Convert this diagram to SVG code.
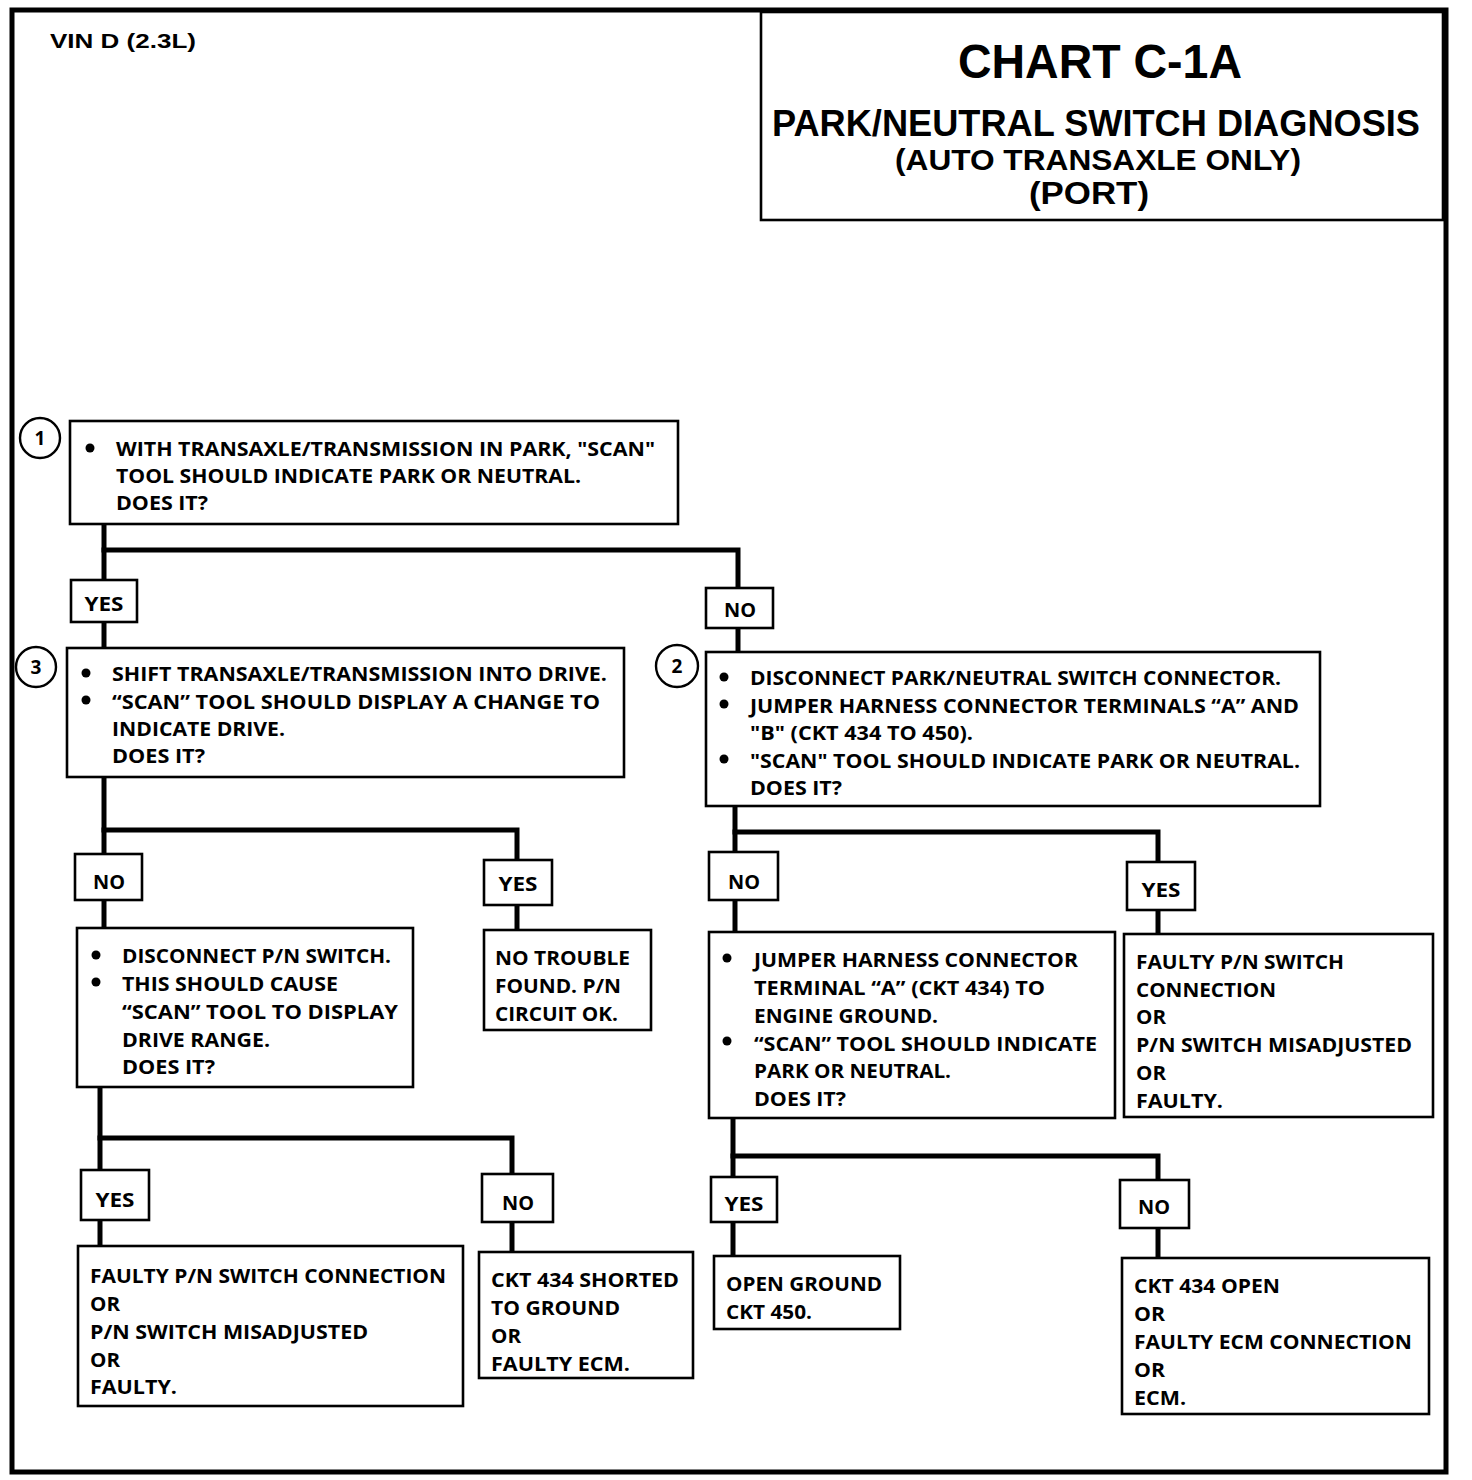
<svg xmlns="http://www.w3.org/2000/svg" width="1472" height="1480" viewBox="0 0 1472 1480">
<style>
.bx{fill:#fff;stroke:#000;stroke-width:2.6}
.lb{fill:#fff;stroke:#000;stroke-width:2.6}
.cn{fill:none;stroke:#000;stroke-width:5;stroke-linecap:square}
.t{font-family:"Open Sans","DejaVu Sans",sans-serif;font-weight:bold;font-size:20px;fill:#000}
.lt{font-family:"Open Sans","DejaVu Sans",sans-serif;font-weight:bold;font-size:20px;fill:#000;text-anchor:middle}
.h{font-family:"Liberation Sans",Arial,sans-serif;font-weight:bold;fill:#000;text-anchor:middle}
.num{font-family:"Open Sans","DejaVu Sans",sans-serif;font-weight:bold;font-size:19px;fill:#000;text-anchor:middle}
.cc{fill:#fff;stroke:#000;stroke-width:2.4}
</style>
<rect x="0" y="0" width="1472" height="1480" fill="#fff"/>
<rect x="12" y="10" width="1434" height="1462" fill="none" stroke="#000" stroke-width="5"/>
<text x="50" y="48" font-family="Liberation Sans, Arial, sans-serif" font-weight="bold" font-size="21" textLength="146" lengthAdjust="spacingAndGlyphs">VIN D (2.3L)</text>

<g id="title">
<rect x="761" y="12" width="682" height="208" fill="#fff" stroke="#000" stroke-width="2.6"/>
<text class="h" x="1100" y="78" font-size="49" textLength="284" lengthAdjust="spacingAndGlyphs">CHART C-1A</text>
<text class="h" x="1096" y="136" font-size="36" textLength="648" lengthAdjust="spacingAndGlyphs">PARK/NEUTRAL SWITCH DIAGNOSIS</text>
<text class="h" x="1098" y="170" font-size="29" textLength="406" lengthAdjust="spacingAndGlyphs">(AUTO TRANSAXLE ONLY)</text>
<text class="h" x="1089" y="204" font-size="31" textLength="120" lengthAdjust="spacingAndGlyphs">(PORT)</text>
</g>

<g id="connectors">
<polyline class="cn" points="104,524 104,580"/>
<polyline class="cn" points="104,550 738,550 738,588"/>
<polyline class="cn" points="104,622 104,648"/>
<polyline class="cn" points="738,628 738,652"/>
<polyline class="cn" points="104,777 104,854"/>
<polyline class="cn" points="104,830 517,830 517,860"/>
<polyline class="cn" points="104,900 104,928"/>
<polyline class="cn" points="517,905 517,930"/>
<polyline class="cn" points="100,1087 100,1170"/>
<polyline class="cn" points="100,1138 512,1138 512,1174"/>
<polyline class="cn" points="100,1220 100,1246"/>
<polyline class="cn" points="512,1222 512,1252"/>
<polyline class="cn" points="735,806 735,852"/>
<polyline class="cn" points="735,832 1158,832 1158,862"/>
<polyline class="cn" points="735,900 735,932"/>
<polyline class="cn" points="1158,910 1158,934"/>
<polyline class="cn" points="733,1118 733,1177"/>
<polyline class="cn" points="733,1156 1158,1156 1158,1180"/>
<polyline class="cn" points="733,1222 733,1256"/>
<polyline class="cn" points="1158,1228 1158,1258"/>
</g>

<g id="lbl-yes1"><rect class="lb" x="71" y="580" width="66" height="42"/><text class="lt" x="104" y="611" textLength="39" lengthAdjust="spacingAndGlyphs">YES</text></g>
<g id="lbl-no1"><rect class="lb" x="706" y="588" width="67" height="40"/><text class="lt" x="740" y="617" textLength="32" lengthAdjust="spacingAndGlyphs">NO</text></g>
<g id="lbl-no3"><rect class="lb" x="75" y="854" width="67" height="46"/><text class="lt" x="109" y="889" textLength="32" lengthAdjust="spacingAndGlyphs">NO</text></g>
<g id="lbl-yes3"><rect class="lb" x="484" y="860" width="68" height="45"/><text class="lt" x="518" y="891" textLength="39" lengthAdjust="spacingAndGlyphs">YES</text></g>
<g id="lbl-yes4"><rect class="lb" x="81" y="1170" width="68" height="50"/><text class="lt" x="115" y="1207" textLength="39" lengthAdjust="spacingAndGlyphs">YES</text></g>
<g id="lbl-no4"><rect class="lb" x="482" y="1174" width="71" height="48"/><text class="lt" x="518" y="1210" textLength="32" lengthAdjust="spacingAndGlyphs">NO</text></g>
<g id="lbl-no2"><rect class="lb" x="709" y="852" width="69" height="48"/><text class="lt" x="744" y="889" textLength="32" lengthAdjust="spacingAndGlyphs">NO</text></g>
<g id="lbl-yes2"><rect class="lb" x="1127" y="862" width="68" height="48"/><text class="lt" x="1161" y="897" textLength="39" lengthAdjust="spacingAndGlyphs">YES</text></g>
<g id="lbl-yes5"><rect class="lb" x="711" y="1177" width="66" height="45"/><text class="lt" x="744" y="1211" textLength="39" lengthAdjust="spacingAndGlyphs">YES</text></g>
<g id="lbl-no5"><rect class="lb" x="1120" y="1180" width="69" height="48"/><text class="lt" x="1154" y="1214" textLength="32" lengthAdjust="spacingAndGlyphs">NO</text></g>

<g id="node1">
<circle class="cc" cx="40" cy="438" r="20"/><text class="num" x="40" y="445">1</text>
<rect class="bx" x="70" y="421" width="608" height="103"/>
<circle cx="90" cy="448" r="4.5"/>
<text class="t" x="116" y="456" textLength="539" lengthAdjust="spacingAndGlyphs">WITH TRANSAXLE/TRANSMISSION IN PARK, "SCAN"</text>
<text class="t" x="116" y="483" textLength="465" lengthAdjust="spacingAndGlyphs">TOOL SHOULD INDICATE PARK OR NEUTRAL.</text>
<text class="t" x="116" y="510" textLength="92" lengthAdjust="spacingAndGlyphs">DOES IT?</text>
</g>

<g id="node3">
<circle class="cc" cx="36" cy="667" r="20"/><text class="num" x="36" y="674">3</text>
<rect class="bx" x="67" y="648" width="557" height="129"/>
<circle cx="86" cy="673" r="4.5"/>
<circle cx="86" cy="700" r="4.5"/>
<text class="t" x="112" y="681" textLength="495" lengthAdjust="spacingAndGlyphs">SHIFT TRANSAXLE/TRANSMISSION  INTO DRIVE.</text>
<text class="t" x="112" y="709" textLength="488" lengthAdjust="spacingAndGlyphs">“SCAN” TOOL SHOULD DISPLAY A CHANGE TO</text>
<text class="t" x="112" y="736" textLength="173" lengthAdjust="spacingAndGlyphs">INDICATE DRIVE.</text>
<text class="t" x="112" y="763" textLength="93" lengthAdjust="spacingAndGlyphs">DOES IT?</text>
</g>

<g id="node2">
<circle class="cc" cx="677" cy="666" r="21"/><text class="num" x="677" y="673">2</text>
<rect class="bx" x="706" y="652" width="614" height="154"/>
<circle cx="724" cy="677" r="4.5"/>
<circle cx="724" cy="704" r="4.5"/>
<circle cx="724" cy="759" r="4.5"/>
<text class="t" x="750" y="685" textLength="531" lengthAdjust="spacingAndGlyphs">DISCONNECT PARK/NEUTRAL SWITCH CONNECTOR.</text>
<text class="t" x="750" y="713" textLength="549" lengthAdjust="spacingAndGlyphs">JUMPER HARNESS CONNECTOR TERMINALS “A” AND</text>
<text class="t" x="750" y="740" textLength="223" lengthAdjust="spacingAndGlyphs">"B" (CKT 434 TO 450).</text>
<text class="t" x="750" y="768" textLength="550" lengthAdjust="spacingAndGlyphs">"SCAN" TOOL SHOULD INDICATE PARK OR NEUTRAL.</text>
<text class="t" x="750" y="795" textLength="92" lengthAdjust="spacingAndGlyphs">DOES IT?</text>
</g>

<g id="node4">
<rect class="bx" x="77" y="928" width="336" height="159"/>
<circle cx="96" cy="955" r="4.5"/>
<circle cx="96" cy="982" r="4.5"/>
<text class="t" x="122" y="963" textLength="269" lengthAdjust="spacingAndGlyphs">DISCONNECT P/N SWITCH.</text>
<text class="t" x="122" y="991" textLength="216" lengthAdjust="spacingAndGlyphs">THIS SHOULD CAUSE</text>
<text class="t" x="122" y="1019" textLength="276" lengthAdjust="spacingAndGlyphs">“SCAN” TOOL TO DISPLAY</text>
<text class="t" x="122" y="1047" textLength="148" lengthAdjust="spacingAndGlyphs">DRIVE RANGE.</text>
<text class="t" x="122" y="1074" textLength="93" lengthAdjust="spacingAndGlyphs">DOES IT?</text>
</g>

<g id="node5">
<rect class="bx" x="484" y="930" width="167" height="100"/>
<text class="t" x="495" y="965" textLength="135" lengthAdjust="spacingAndGlyphs">NO TROUBLE</text>
<text class="t" x="495" y="993" textLength="126" lengthAdjust="spacingAndGlyphs">FOUND.  P/N</text>
<text class="t" x="495" y="1021" textLength="123" lengthAdjust="spacingAndGlyphs">CIRCUIT OK.</text>
</g>

<g id="node6">
<rect class="bx" x="709" y="932" width="406" height="186"/>
<circle cx="727" cy="958" r="4.5"/>
<circle cx="727" cy="1041" r="4.5"/>
<text class="t" x="754" y="967" textLength="324" lengthAdjust="spacingAndGlyphs">JUMPER HARNESS CONNECTOR</text>
<text class="t" x="754" y="995" textLength="291" lengthAdjust="spacingAndGlyphs">TERMINAL “A” (CKT 434) TO</text>
<text class="t" x="754" y="1023" textLength="184" lengthAdjust="spacingAndGlyphs">ENGINE GROUND.</text>
<text class="t" x="754" y="1051" textLength="343" lengthAdjust="spacingAndGlyphs">“SCAN” TOOL SHOULD INDICATE</text>
<text class="t" x="754" y="1078" textLength="197" lengthAdjust="spacingAndGlyphs">PARK OR NEUTRAL.</text>
<text class="t" x="754" y="1106" textLength="92" lengthAdjust="spacingAndGlyphs">DOES IT?</text>
</g>

<g id="node7">
<rect class="bx" x="1124" y="934" width="309" height="183"/>
<text class="t" x="1136" y="969" textLength="208" lengthAdjust="spacingAndGlyphs">FAULTY P/N SWITCH</text>
<text class="t" x="1136" y="997" textLength="140" lengthAdjust="spacingAndGlyphs">CONNECTION</text>
<text class="t" x="1136" y="1024" textLength="30" lengthAdjust="spacingAndGlyphs">OR</text>
<text class="t" x="1136" y="1052" textLength="276" lengthAdjust="spacingAndGlyphs">P/N SWITCH MISADJUSTED</text>
<text class="t" x="1136" y="1080" textLength="30" lengthAdjust="spacingAndGlyphs">OR</text>
<text class="t" x="1136" y="1108" textLength="87" lengthAdjust="spacingAndGlyphs">FAULTY.</text>
</g>

<g id="node8">
<rect class="bx" x="78" y="1246" width="385" height="160"/>
<text class="t" x="90" y="1283" textLength="356" lengthAdjust="spacingAndGlyphs">FAULTY P/N SWITCH CONNECTION</text>
<text class="t" x="90" y="1311" textLength="30" lengthAdjust="spacingAndGlyphs">OR</text>
<text class="t" x="90" y="1339" textLength="278" lengthAdjust="spacingAndGlyphs">P/N SWITCH MISADJUSTED</text>
<text class="t" x="90" y="1367" textLength="30" lengthAdjust="spacingAndGlyphs">OR</text>
<text class="t" x="90" y="1394" textLength="87" lengthAdjust="spacingAndGlyphs">FAULTY.</text>
</g>

<g id="node9">
<rect class="bx" x="479" y="1252" width="214" height="126"/>
<text class="t" x="491" y="1287" textLength="188" lengthAdjust="spacingAndGlyphs">CKT 434 SHORTED</text>
<text class="t" x="491" y="1315" textLength="129" lengthAdjust="spacingAndGlyphs">TO GROUND</text>
<text class="t" x="491" y="1343" textLength="30" lengthAdjust="spacingAndGlyphs">OR</text>
<text class="t" x="491" y="1371" textLength="139" lengthAdjust="spacingAndGlyphs">FAULTY ECM.</text>
</g>

<g id="node10">
<rect class="bx" x="714" y="1256" width="186" height="73"/>
<text class="t" x="726" y="1291" textLength="156" lengthAdjust="spacingAndGlyphs">OPEN GROUND</text>
<text class="t" x="726" y="1319" textLength="86" lengthAdjust="spacingAndGlyphs">CKT 450.</text>
</g>

<g id="node11">
<rect class="bx" x="1122" y="1258" width="307" height="156"/>
<text class="t" x="1134" y="1293" textLength="146" lengthAdjust="spacingAndGlyphs">CKT 434 OPEN</text>
<text class="t" x="1134" y="1321" textLength="31" lengthAdjust="spacingAndGlyphs">OR</text>
<text class="t" x="1134" y="1349" textLength="278" lengthAdjust="spacingAndGlyphs">FAULTY ECM CONNECTION</text>
<text class="t" x="1134" y="1377" textLength="31" lengthAdjust="spacingAndGlyphs">OR</text>
<text class="t" x="1134" y="1405" textLength="52" lengthAdjust="spacingAndGlyphs">ECM.</text>
</g>
</svg>
